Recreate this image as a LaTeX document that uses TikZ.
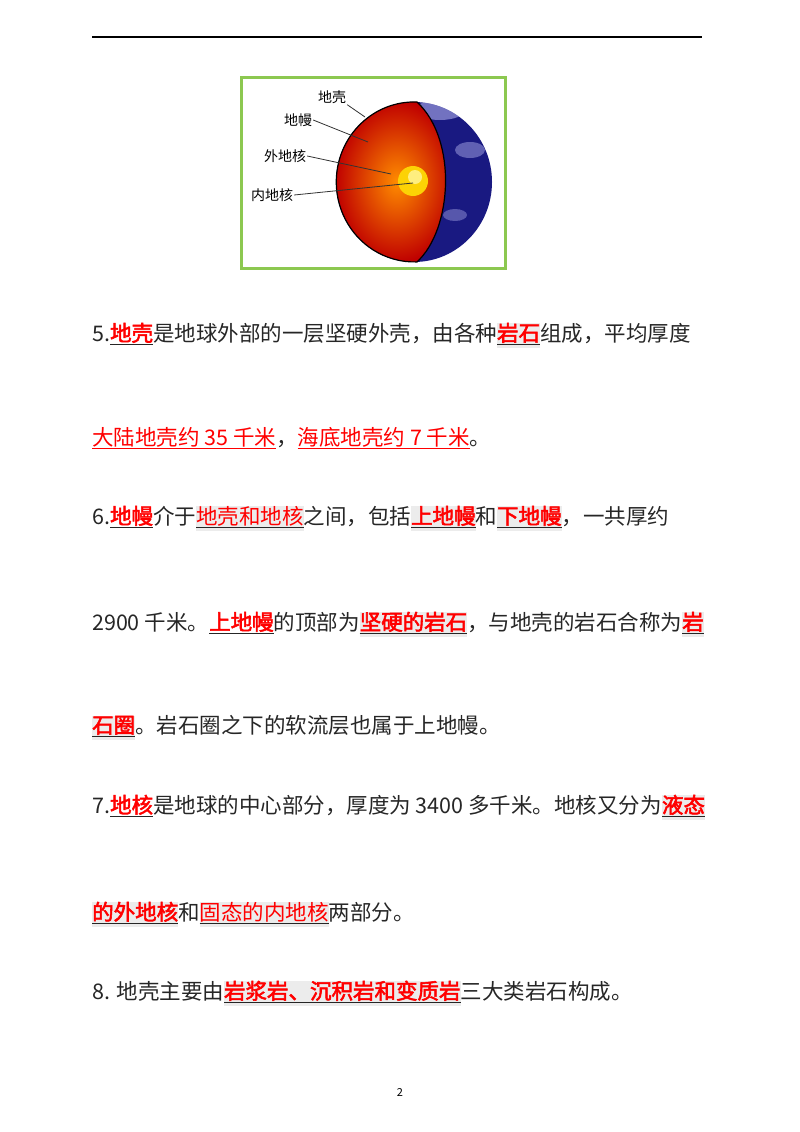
\documentclass[tikz,border=0pt]{standalone}
\usepackage{fontspec}
\setmainfont{Noto Sans CJK SC}[AutoFakeBold=2.5]
\usetikzlibrary{calc}
\definecolor{hl}{RGB}{236,236,236}
\definecolor{rd}{RGB}{255,0,0}
\definecolor{frame}{RGB}{140,200,80}
\newcommand{\rbx}[1]{\underline{\textcolor{rd}{\bfseries #1}}}
\newcommand{\rbh}[1]{{\fboxsep=0pt\colorbox{hl}{\strut\underline{\textcolor{rd}{\bfseries #1}}}}}
\newcommand{\rnx}[1]{\textcolor{rd}{\underline{#1}}}
\newcommand{\rnh}[1]{{\fboxsep=0pt\colorbox{hl}{\strut\underline{\textcolor{rd}{#1}}}}}
\begin{document}
\begin{tikzpicture}[x=1pt,y=-1pt,
  txt/.style={anchor=base west,inner sep=0pt,font=\fontsize{21.5}{24}\selectfont,text=black!85},
  lbl/.style={inner sep=1pt,font=\fontsize{14}{16}\selectfont},
  ptr/.style={draw=black!80,line width=0.8pt}]
\useasboundingbox (0,0) rectangle (800,1132);
\draw[line width=1.2pt] (92,37) -- (702,37);
% figure
\draw[frame,line width=3pt] (241,77) rectangle (505,268);
\coordinate (c) at (414,182);
\fill[blue!45!black!90!white] (c) circle [x radius=78, y radius=80];
\begin{scope}
\clip (c) circle [x radius=78, y radius=80];
\fill[white!80!blue,opacity=0.5] (440,110) ellipse [x radius=25, y radius=10];
\fill[white!80!blue,opacity=0.4] (470,150) ellipse [x radius=15, y radius=8];
\fill[white!80!blue,opacity=0.35] (455,215) ellipse [x radius=12, y radius=6];
\end{scope}
\path[inner color=orange!90!yellow, outer color=red!75!black, draw=black, line width=1.2pt]
  (417,102) arc[start angle=272, end angle=88, x radius=78, y radius=80]
  .. controls (452,230) and (458,140) .. (417,102) -- cycle;
\fill[yellow!70!orange] (413,181) circle (15);
\fill[yellow!30,opacity=0.7] (415,177) circle (7);
\node[lbl] (crust) at (332,97) {地壳};
\node[lbl] (mantle) at (298,120) {地幔};
\node[lbl] (outer) at (285,156) {外地核};
\node[lbl] (inner) at (272,195) {内地核};
\coordinate (pc) at (365,117);
\coordinate (pm) at (368,142);
\coordinate (po) at (391,174);
\coordinate (pi) at (413,183);
\draw[ptr] (crust.south east) -- (pc);
\draw[ptr] (mantle.east) -- (pm);
\draw[ptr] (outer.east) -- (po);
\draw[ptr] (inner.east) -- (pi);
% text
\node[txt] (l1) at (92,341) {5.\rbx{地壳}是地球外部的一层坚硬外壳，由各种\rbh{岩石}组成，平均厚度};
\node[txt] (l2) at (92,445) {\rnx{大陆地壳约 35 千米}，\rnx{海底地壳约 7 千米}。};
\node[txt] (l3) at (92,524) {6.\rbx{地幔}介于\rnh{地壳和地核}之间，包括\rbh{上地幔}和\rbh{下地幔}，一共厚约};
\node[txt] (l4) at (92,630) {2900 千米。\rbx{上地幔}的顶部为\rbh{坚硬的岩石}，与地壳的岩石合称为\rbh{岩}};
\node[txt] (l5) at (92,733) {\rbh{石圈}。岩石圈之下的软流层也属于上地幔。};
\node[txt] (l6) at (92,813) {7.\rbx{地核}是地球的中心部分，厚度为 3400 多千米。地核又分为\rbh{液态}};
\node[txt] (l7) at (92,920) {\rbh{的外地核}和\rnh{固态的内地核}两部分。};
\node[txt] (l8) at (92,999) {8. 地壳主要由\rbh{岩浆岩、沉积岩和变质岩}三大类岩石构成。};
\node[inner sep=0pt,font=\fontsize{11}{12}\selectfont] (pg) at (400,1092) {2};
\end{tikzpicture}
\end{document}
